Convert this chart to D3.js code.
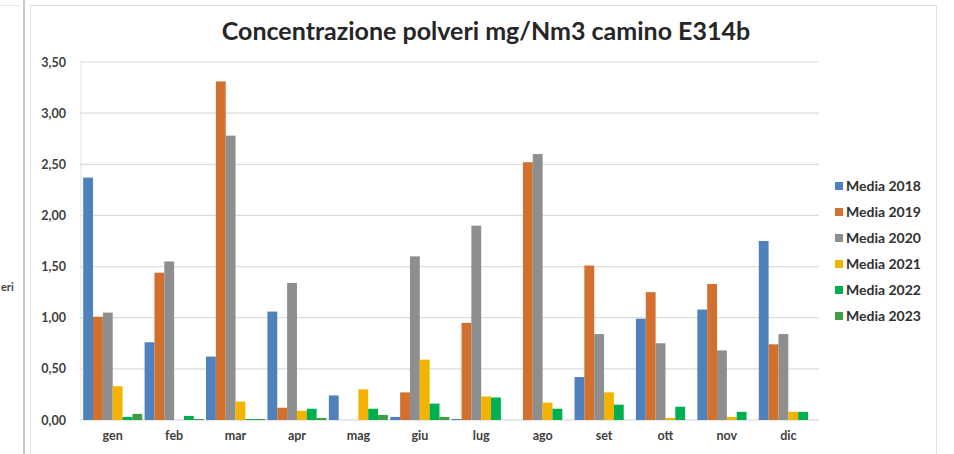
<!DOCTYPE html>
<html><head><meta charset="utf-8">
<script src="https://cdn.jsdelivr.net/npm/d3@7"></script>
<style>
body{margin:0;background:#fff;}
text{font-family:Lato,"Open Sans",sans-serif;}
</style></head>
<body><svg id="c" width="954" height="454"></svg>
<script>
const months = ["gen","feb","mar","apr","mag","giu","lug","ago","set","ott","nov","dic"];
const seriesNames = ["Media 2018","Media 2019","Media 2020","Media 2021","Media 2022","Media 2023"];
const media2018 = [2.37,0.76,0.62,1.06,0.24,0.03,0.01,0.00,0.42,0.99,1.08,1.75];
const media2019 = [1.01,1.44,3.31,0.12,0.00,0.27,0.95,2.52,1.51,1.25,1.33,0.74];
const media2020 = [1.05,1.55,2.78,1.34,0.00,1.60,1.90,2.60,0.84,0.75,0.68,0.84];
const media2021 = [0.33,0.00,0.18,0.09,0.30,0.59,0.23,0.17,0.27,0.02,0.03,0.08];
const media2022 = [0.03,0.04,0.01,0.11,0.11,0.16,0.22,0.11,0.15,0.13,0.08,0.08];
const media2023 = [0.06,0.01,0.01,0.02,0.05,0.03,0.00,0.00,0.00,0.00,0.00,0.00];
const yTicks = [0,0.5,1,1.5,2,2.5,3,3.5];
const colors = ["#4F81BD","#D2702E","#8E8E8E","#F2B400","#00B050","#3E9E48"];

const data = [media2018,media2019,media2020,media2021,media2022,media2023];
const svg = d3.select("#c");

// frames
svg.append("line").attr("x1",24).attr("x2",24).attr("y1",0).attr("y2",454).attr("stroke","#c8c8c8").attr("stroke-width",2);
svg.append("rect").attr("x",30.5).attr("y",5.5).attr("width",906).attr("height",460).attr("fill","none").attr("stroke","#e0e0e0");
svg.append("line").attr("x1",0).attr("x2",20).attr("y1",5.5).attr("y2",5.5).attr("stroke","#e6e6e6");
svg.append("text").attr("x",1).attr("y",291).attr("font-size",11).attr("font-weight","bold").attr("fill","#404040").text("eri");

const pL=82, pR=819, pT=62, pB=420;
const x = d3.scaleBand().domain(months).range([pL,pR]).paddingInner(0).paddingOuter(0);
const y = d3.scaleLinear().domain([0,3.5]).range([pB,pT]);
const x1 = d3.scaleBand().domain(d3.range(6)).range([0,x.bandwidth()]).paddingOuter(0.12).paddingInner(0);

// gridlines
svg.append("g").selectAll("line").data(yTicks).join("line")
 .attr("x1",pL-2).attr("x2",pR).attr("y1",d=>y(d)).attr("y2",d=>y(d))
 .attr("stroke",d=>d===0?"#d0d0d0":"#dcdcdc").attr("stroke-width",1.2);
svg.append("line").attr("x1",pL-1).attr("x2",pL-1).attr("y1",pT).attr("y2",pB).attr("stroke","#e4e4e4");

// y axis labels
const yAxis = d3.axisLeft(y).tickValues(yTicks).tickSize(0).tickPadding(0).tickFormat(d=>d3.format(".2f")(d).replace(".",","));
const ga = svg.append("g").attr("transform",`translate(66,0)`).call(yAxis);
ga.select(".domain").remove();
ga.selectAll("text").attr("font-size",12.5).attr("font-weight","bold").attr("fill","#404040").attr("font-family","Lato,'Open Sans',sans-serif");

// x axis labels
const xAxis = d3.axisBottom(x).tickSize(0).tickPadding(0);
const gx = svg.append("g").attr("transform",`translate(0,431)`).call(xAxis);
gx.select(".domain").remove();
gx.selectAll("text").attr("font-size",12.5).attr("font-weight","bold").attr("fill","#404040").attr("font-family","Lato,'Open Sans',sans-serif");

// bars
const bars = svg.append("g");
data.forEach((vals,si)=>{
  bars.append("g").attr("fill",colors[si]).selectAll("rect").data(vals).join("rect")
   .attr("x",(d,i)=>x(months[i])+x1(si))
   .attr("width",x1.bandwidth())
   .attr("y",d=>y(d))
   .attr("height",d=>pB-y(d));
});

// title
svg.append("text").attr("x",486).attr("y",40).attr("text-anchor","middle")
 .attr("font-size",25).attr("font-weight","bold").attr("fill","#262626")
 .text("Concentrazione polveri mg/Nm3 camino E314b");

// legend
const lg = svg.append("g").attr("transform","translate(835,186)");
seriesNames.forEach((n,i)=>{
  const g = lg.append("g").attr("transform",`translate(0,${i*26})`);
  g.append("rect").attr("x",0).attr("y",-4).attr("width",8).attr("height",8).attr("fill",colors[i]);
  g.append("text").attr("x",11).attr("y",5).attr("font-size",14).attr("font-weight","bold").attr("fill","#303030").text(n);
});
</script></body></html>
